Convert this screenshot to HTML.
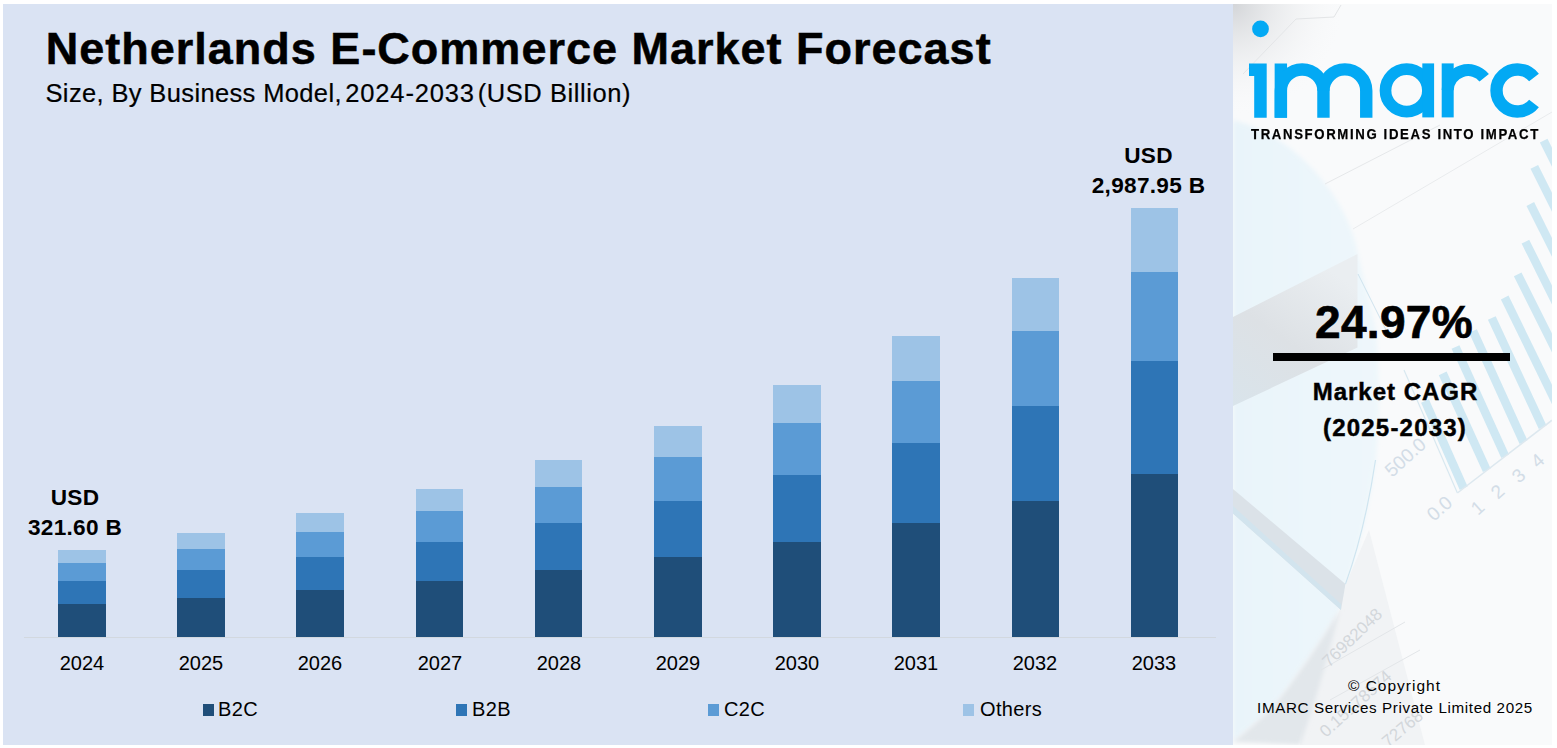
<!DOCTYPE html>
<html><head><meta charset="utf-8">
<style>
*{margin:0;padding:0;box-sizing:border-box}
html,body{width:1557px;height:748px;overflow:hidden;background:#fff}
body{position:relative;font-family:"Liberation Sans",sans-serif;color:#000}
.t{position:absolute;white-space:nowrap;line-height:1}
.sub{top:81px;font-size:25.5px;letter-spacing:0px;-webkit-text-stroke:0.2px #000}
#left{position:absolute;left:3px;top:4px;width:1230px;height:741px;background:#dae3f3}
#right{position:absolute;left:1233px;top:4px;width:319px;height:741px;background:#f7f9fa;overflow:hidden}
.bar{position:absolute;width:48px}
.o{background:#9dc3e6}.c{background:#5b9bd5}.b{background:#2e75b6}.d{background:#1f4e79}
.yr{position:absolute;top:653px;width:80px;text-align:center;font-size:20px;line-height:1}
.lg{position:absolute;top:699px;font-size:20px;line-height:1;letter-spacing:0.35px}
.sq{position:absolute;top:704px;width:11px;height:12px}
</style></head><body>
<div id="left"></div>
<div id="right"><svg width="320" height="741" viewBox="1233 4 320 741" style="position:absolute;left:0;top:0">
<defs>
<radialGradient id="tl" cx="1233" cy="4" r="110" gradientUnits="userSpaceOnUse"><stop offset="0" stop-color="#d3d5d8"/><stop offset="1" stop-color="#f6f7f8" stop-opacity="0"/></radialGradient>
<linearGradient id="wedge" x1="1233" y1="406" x2="1330" y2="270" gradientUnits="userSpaceOnUse"><stop offset="0" stop-color="#d9e4eb"/><stop offset="0.5" stop-color="#dde1e5"/><stop offset="1" stop-color="#eaeef1"/></linearGradient>
<linearGradient id="blue" x1="1233" y1="0" x2="1380" y2="0" gradientUnits="userSpaceOnUse"><stop offset="0" stop-color="#e9f4fa"/><stop offset="1" stop-color="#eef7fb"/></linearGradient>
<filter id="bl" x="-20%" y="-20%" width="140%" height="140%"><feGaussianBlur stdDeviation="2"/></filter>
<filter id="bl4" x="-20%" y="-20%" width="140%" height="140%"><feGaussianBlur stdDeviation="6"/></filter>
</defs>
<rect x="1233" y="4" width="320" height="741" fill="#f9fafb"/>
<path d="M1233 120 Q1290 135 1330 190 Q1352 222 1358 254 L1376 330 Q1382 400 1376 460 Q1366 530 1346 584 L1340 609 Q1310 660 1272 708 Q1250 728 1233 742 Z" fill="url(#blue)" filter="url(#bl)"/>
<rect x="1233" y="4" width="320" height="741" fill="url(#tl)"/>
<polygon points="1233,317 1357.5,254 1357.5,347.5 1233,406" fill="url(#wedge)"/>
<polygon points="1346,584 1369,530 1425,745 1300,745 1310,690 1340,609" fill="#f1f3f5"/>
<path d="M1340 609 Q1310 660 1272 708 Q1250 728 1233 742 L1300 745 Q1320 690 1340 609Z" fill="#e2e7eb" filter="url(#bl)"/>
<polygon points="1233,489 1345.5,584 1341,610 1233,513.5" fill="#dbe2e8"/>
<polygon points="1233,506 1341,604 1341,610 1233,513.5" fill="#d2e4ee"/>
<path d="M1375.5 460 Q1365 530 1345.5 584" stroke="#cfe5f0" stroke-width="1.2" fill="none"/>
<path d="M1358 274 L1386 330" stroke="#cfe3ee" stroke-width="1" fill="none"/>
<path d="M1243 74 L1296 19 L1334 17 L1341 5" stroke="#e3e5e7" stroke-width="1" fill="none"/>
<path d="M1325 184 L1440 125" stroke="#e6e8ea" stroke-width="1" fill="none"/>
<path d="M1353 229 L1552 112" stroke="#e9ebed" stroke-width="1" fill="none"/>
<path d="M1321 670 L1405 622 M1330 700 L1420 650" stroke="#e3e6e9" stroke-width="1" fill="none"/>
<g fill="#cfe8f3">
<polygon points="1547.5,138.8 1539.9,142.6 1643.1,349.0 1650.7,345.2"/>
<polygon points="1538.1,164.9 1530.5,168.7 1626.9,361.5 1634.5,357.7"/>
<polygon points="1534.1,202.1 1526.5,205.9 1610.6,374.0 1618.2,370.2"/>
<polygon points="1529.2,239.8 1521.6,243.6 1593.4,387.2 1601.0,383.4"/>
<polygon points="1521.5,272.4 1513.9,276.2 1576.1,400.6 1583.7,396.8"/>
<polygon points="1508.5,295.6 1500.9,299.4 1557.3,415.0 1564.9,411.3"/>
<polygon points="1495.7,316.2 1487.9,319.8 1538.8,429.1 1546.5,425.6"/>
<polygon points="1476.9,329.2 1469.1,332.8 1519.6,443.9 1527.4,440.3"/>
<polygon points="1459.4,345.2 1451.6,348.8 1501.3,458.0 1509.0,454.5"/>
<polygon points="1446.6,371.6 1438.8,375.2 1482.9,472.1 1490.6,468.6"/>
<polygon points="1428.9,399.3 1421.1,402.7 1459.8,489.9 1467.6,486.4"/>
</g>
<line x1="1404" y1="370" x2="1457.4" y2="493" stroke="#d8e8f0" stroke-width="1.2"/>
<line x1="1457.4" y1="493" x2="1552" y2="420.2" stroke="#dde8ef" stroke-width="1.5"/>
<g fill="#d3dde7" font-family="Liberation Sans" font-size="19">
<text transform="translate(1392,478) rotate(-42)">500.0</text>
<text transform="translate(1434,522) rotate(-42)">0.0</text>
<text transform="translate(1478,516) rotate(-42)">1</text>
<text transform="translate(1498,500) rotate(-42)">2</text>
<text transform="translate(1519,484) rotate(-42)">3</text>
<text transform="translate(1538,469) rotate(-42)">4</text>
</g>
<g fill="#d3d7db" font-family="Liberation Sans" font-size="17">
<text transform="translate(1329,668) rotate(-44)">76982048</text>
<text transform="translate(1326,738) rotate(-42)">0.15178574</text>
<text transform="translate(1388,748) rotate(-40)">72768</text>
</g>
</svg></div>

<div class="t" id="title" style="left:45.8px;top:25.7px;font-size:45px;font-weight:bold;letter-spacing:1.0px;-webkit-text-stroke:0.5px #000">Netherlands E-Commerce Market Forecast</div>
<div class="t sub" id="sub1" style="left:45.5px;letter-spacing:0.36px">Size, By Business Model,</div>
<div class="t sub" id="sub2" style="left:345.3px;letter-spacing:0.84px">2024-2033</div>
<div class="t sub" id="sub3" style="left:477.7px;letter-spacing:0.58px">(USD Billion)</div>

<!-- axis line -->
<div style="position:absolute;left:24px;top:637px;width:1192px;height:1px;background:#d2d8df"></div>

<!-- bars: top, o/c, c/b, b/d, bottom 637 -->
<div class="bar o" style="left:58px;top:550px;height:13px;width:48px"></div>
<div class="bar c" style="left:58px;top:563px;height:18px;width:48px"></div>
<div class="bar b" style="left:58px;top:581px;height:23px;width:48px"></div>
<div class="bar d" style="left:58px;top:604px;height:33px;width:48px"></div>
<div class="bar o" style="left:177px;top:533px;height:16px;width:48px"></div>
<div class="bar c" style="left:177px;top:549px;height:21px;width:48px"></div>
<div class="bar b" style="left:177px;top:570px;height:28px;width:48px"></div>
<div class="bar d" style="left:177px;top:598px;height:39px;width:48px"></div>
<div class="bar o" style="left:296px;top:513px;height:19px;width:48px"></div>
<div class="bar c" style="left:296px;top:532px;height:25px;width:48px"></div>
<div class="bar b" style="left:296px;top:557px;height:33px;width:48px"></div>
<div class="bar d" style="left:296px;top:590px;height:47px;width:48px"></div>
<div class="bar o" style="left:416px;top:489px;height:22px;width:47px"></div>
<div class="bar c" style="left:416px;top:511px;height:31px;width:47px"></div>
<div class="bar b" style="left:416px;top:542px;height:39px;width:47px"></div>
<div class="bar d" style="left:416px;top:581px;height:56px;width:47px"></div>
<div class="bar o" style="left:535px;top:460px;height:27px;width:47px"></div>
<div class="bar c" style="left:535px;top:487px;height:36px;width:47px"></div>
<div class="bar b" style="left:535px;top:523px;height:47px;width:47px"></div>
<div class="bar d" style="left:535px;top:570px;height:67px;width:47px"></div>
<div class="bar o" style="left:654px;top:426px;height:31px;width:48px"></div>
<div class="bar c" style="left:654px;top:457px;height:44px;width:48px"></div>
<div class="bar b" style="left:654px;top:501px;height:56px;width:48px"></div>
<div class="bar d" style="left:654px;top:557px;height:80px;width:48px"></div>
<div class="bar o" style="left:773px;top:385px;height:38px;width:48px"></div>
<div class="bar c" style="left:773px;top:423px;height:52px;width:48px"></div>
<div class="bar b" style="left:773px;top:475px;height:67px;width:48px"></div>
<div class="bar d" style="left:773px;top:542px;height:95px;width:48px"></div>
<div class="bar o" style="left:892px;top:336px;height:45px;width:48px"></div>
<div class="bar c" style="left:892px;top:381px;height:62px;width:48px"></div>
<div class="bar b" style="left:892px;top:443px;height:80px;width:48px"></div>
<div class="bar d" style="left:892px;top:523px;height:114px;width:48px"></div>
<div class="bar o" style="left:1012px;top:278px;height:53px;width:47px"></div>
<div class="bar c" style="left:1012px;top:331px;height:75px;width:47px"></div>
<div class="bar b" style="left:1012px;top:406px;height:95px;width:47px"></div>
<div class="bar d" style="left:1012px;top:501px;height:136px;width:47px"></div>
<div class="bar o" style="left:1131px;top:208px;height:64px;width:47px"></div>
<div class="bar c" style="left:1131px;top:272px;height:89px;width:47px"></div>
<div class="bar b" style="left:1131px;top:361px;height:113px;width:47px"></div>
<div class="bar d" style="left:1131px;top:474px;height:163px;width:47px"></div>

<!-- year labels -->
<div class="yr" style="left:42px">2024</div>
<div class="yr" style="left:161px">2025</div>
<div class="yr" style="left:280px">2026</div>
<div class="yr" style="left:400px">2027</div>
<div class="yr" style="left:519px">2028</div>
<div class="yr" style="left:638px">2029</div>
<div class="yr" style="left:757px">2030</div>
<div class="yr" style="left:876px">2031</div>
<div class="yr" style="left:995px">2032</div>
<div class="yr" style="left:1114px">2033</div>

<!-- value labels -->
<div class="t" id="v1a" style="left:25px;width:100px;text-align:center;top:487.3px;font-size:22.6px;font-weight:bold;letter-spacing:0.3px">USD</div>
<div class="t" id="v1b" style="left:25px;width:100px;text-align:center;top:517.3px;font-size:22.6px;font-weight:bold;letter-spacing:0.3px">321.60 B</div>
<div class="t" id="v2a" style="left:1088.5px;width:120px;text-align:center;top:145.3px;font-size:22.6px;font-weight:bold;letter-spacing:0.3px">USD</div>
<div class="t" id="v2b" style="left:1088.5px;width:120px;text-align:center;top:175.3px;font-size:22.6px;font-weight:bold;letter-spacing:0.3px">2,987.95 B</div>

<!-- legend -->
<div class="sq d" style="left:203px"></div><div class="lg" id="lg1" style="left:218px">B2C</div>
<div class="sq b" style="left:456px"></div><div class="lg" id="lg2" style="left:472px">B2B</div>
<div class="sq c" style="left:708px"></div><div class="lg" id="lg3" style="left:724px">C2C</div>
<div class="sq o" style="left:963px"></div><div class="lg" id="lg4" style="left:980px">Others</div>

<!-- right panel content -->
<svg style="position:absolute;left:0;top:0" width="1557" height="748" viewBox="0 0 1557 748">
 <g fill="#03a9f4" stroke="none">
  <circle cx="1260.5" cy="28.9" r="8.4"/>
  <path d="M1249 63.5H1266.7V117.7H1254.2V75.9H1249Z"/>
  <rect x="1274.65" y="63.5" width="12.4" height="54.2"/>
 </g>
 <g fill="none" stroke="#03a9f4" stroke-width="12.4">
  <path d="M1280.85 117.7V90.8A21.3 21.3 0 0 1 1323.45 90.8V117.7"/>
  <path d="M1323.45 90.8A21.4 21.4 0 0 1 1366.25 90.8V117.7"/>
  <circle cx="1406.7" cy="90.4" r="21.2" stroke-width="11.7"/>
  <path d="M1428.2 63.4V117.4" stroke-width="11.8"/>
  <path d="M1447.7 117.4V63.4" stroke-width="12"/>
  <path d="M1447.7 90.2A20.5 20.5 0 0 1 1484.2 77.8" stroke-width="12"/>
  <path d="M1534 77.5A21 21 0 1 0 1534 103.5"/>
 </g>
</svg>
<div class="t" id="tag" style="left:1251px;top:126px;font-size:15px;font-weight:bold;letter-spacing:1.85px;-webkit-text-stroke:0.25px #000;transform:scaleX(0.88);transform-origin:0 0">TRANSFORMING IDEAS INTO IMPACT</div>
<div class="t" id="cagr" style="left:1294px;width:200px;text-align:center;top:299px;font-size:46px;font-weight:bold;-webkit-text-stroke:0.7px #000;letter-spacing:0.3px">24.97%</div>
<div style="position:absolute;left:1273px;top:353px;width:237px;height:8px;background:#000"></div>
<div class="t" id="mk" style="left:1295.5px;width:200px;text-align:center;top:380px;font-size:24px;font-weight:bold;letter-spacing:1.0px;-webkit-text-stroke:0.45px #000">Market CAGR</div>
<div class="t" id="yrs" style="left:1295px;width:200px;text-align:center;top:416px;font-size:24px;font-weight:bold;letter-spacing:1.2px;-webkit-text-stroke:0.45px #000">(2025-2033)</div>
<div class="t" id="cp1" style="left:1294.5px;width:200px;text-align:center;top:678px;font-size:15.5px;letter-spacing:1px">© Copyright</div>
<div class="t" id="cp2" style="left:1245px;width:300px;text-align:center;top:700px;font-size:15.2px;letter-spacing:0.62px">IMARC Services Private Limited 2025</div>
</body></html>
